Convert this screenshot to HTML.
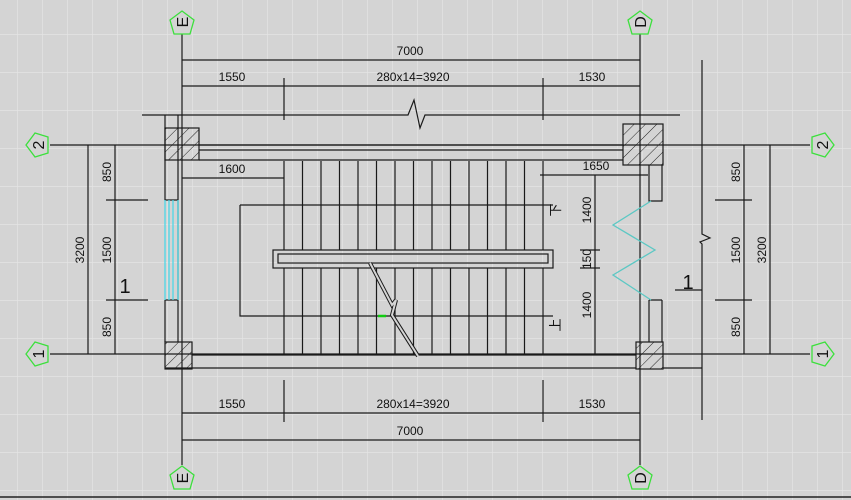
<!DOCTYPE html>
<html><head><style>html,body{margin:0;padding:0;background:#d4d4d4}svg{display:block}text{font-family:"Liberation Sans",sans-serif;fill:#111}</style></head>
<body>
<svg width="851" height="500" viewBox="0 0 851 500" xmlns="http://www.w3.org/2000/svg">
<defs>
<pattern id="g" width="25" height="38" patternUnits="userSpaceOnUse" x="-8" y="-4"><path d="M0 0V38M0 0H25" stroke="#e6e6e6" stroke-width="1.2" fill="none"/></pattern>
<pattern id="h" width="8" height="8" patternUnits="userSpaceOnUse" patternTransform="rotate(45)"><path d="M0 0V8" stroke="#222" stroke-width="1"/></pattern>
</defs>
<rect width="851" height="500" fill="#d4d4d4"/>
<rect width="851" height="500" fill="url(#g)"/>
<line x1="0" y1="497" x2="851" y2="497" stroke="#222" stroke-width="1.5"/>
<g stroke="#1a1a1a" stroke-width="1.2" fill="none">
<line x1="182" y1="34" x2="182" y2="465"/><line x1="640" y1="34" x2="640" y2="465"/>
<line x1="50" y1="145" x2="810" y2="145"/><line x1="50" y1="354" x2="810" y2="354"/>
<line x1="182" y1="60" x2="640" y2="60"/><line x1="182" y1="86" x2="640" y2="86"/>
<line x1="284" y1="78" x2="284" y2="120"/><line x1="543" y1="78" x2="543" y2="120"/>
<path d="M142 115H408L414 100L420 128L425 115H680"/>
<line x1="182" y1="413" x2="640" y2="413"/><line x1="182" y1="440" x2="640" y2="440"/>
<line x1="284" y1="380" x2="284" y2="422"/><line x1="543" y1="380" x2="543" y2="422"/>
<path d="M702 60V234L710 238L700 242L702 244V420"/>
<line x1="744" y1="145" x2="744" y2="354"/><line x1="770" y1="145" x2="770" y2="354"/>
<line x1="715" y1="200" x2="752" y2="200"/><line x1="715" y1="300" x2="752" y2="300"/>
<line x1="88" y1="145" x2="88" y2="354"/><line x1="115" y1="145" x2="115" y2="354"/>
<line x1="106" y1="200" x2="148" y2="200"/><line x1="106" y1="300" x2="148" y2="300"/>
<line x1="675" y1="290" x2="702" y2="290"/>
<path d="M165 115V200H178V115M178 200V300M165 300V342M178 300V342M165 300H178"/>
<path d="M199 145H623M199 150H623M199 160H623"/>
<path d="M192 355H636M165 368H636"/>
<path d="M649 165V201H662V165M649 300V342M662 300V342M649 300H662"/>
<line x1="663" y1="368" x2="702" y2="368"/>
<path d="M240 205H553M240 205V316H553"/>
<rect x="273" y="250" width="280" height="18"/><rect x="278" y="254" width="270" height="9"/>
<path d="M595 175V355M540 175H648M182 178H284"/>
<path d="M580 250H600M580 268H600"/>
</g>
<g stroke="#1a1a1a" stroke-width="1.2">
<path d="M284 161V250M302.5 161V250M321 161V250M339.5 161V250M358 161V250M376.5 161V250M395 161V250M413.5 161V250M432 161V250M450.5 161V250M469 161V250M487.5 161V250M506 161V250M524.5 161V250M543 161V250"/>
<path d="M284 268V355M302.5 268V355M321 268V355M339.5 268V355M358 268V355M376.5 268V355M395 268V355M413.5 268V355M432 268V355M450.5 268V355M469 268V355M487.5 268V355M506 268V355M524.5 268V355M543 268V355"/>
</g>
<path d="M370 263L392 305L396 300L392 315L418 356" stroke="#1a1a1a" stroke-width="4" fill="none"/>
<path d="M370 263L392 305L396 300L392 315L418 356" stroke="#d4d4d4" stroke-width="2" fill="none"/>
<line x1="378" y1="316" x2="386" y2="316" stroke="#1c1" stroke-width="2.5"/>
<g stroke="#1a1a1a" stroke-width="1.2">
<rect x="165" y="128" width="34" height="32" fill="url(#h)"/>
<rect x="623" y="124" width="40" height="41" fill="url(#h)"/>
<rect x="165" y="342" width="27" height="27" fill="url(#h)"/>
<rect x="636" y="342" width="27" height="27" fill="url(#h)"/>
</g>
<g stroke="#4cd8e6" stroke-width="1.3" fill="none">
<path d="M165 200V300M169 200V300M173 200V300M178 200V300"/>
<path d="M651 201L613 225L655 250L613 275L651 300" stroke="#5cc8c4"/>
</g>
<g stroke="#3ce03c" stroke-width="1.3" fill="#d4d4d4">
<polygon points="182,11 194,20 190,34 174,34 170,20"/>
<polygon points="640,11 652,20 648,34 632,34 628,20"/>
<polygon points="182,466 194,475 190,489 174,489 170,475"/>
<polygon points="640,466 652,475 648,489 632,489 628,475"/>
<polygon points="26,145 35,133 48,137 48,153 35,157"/>
<polygon points="26,354 35,342 48,346 48,362 35,366"/>
<polygon points="834,145 825,133 812,137 812,153 825,157"/>
<polygon points="834,354 825,342 812,346 812,362 825,366"/>
</g>
<g font-size="16">
<text x="182" y="28" text-anchor="middle" transform="rotate(-90 182 22)">E</text>
<text x="640" y="28" text-anchor="middle" transform="rotate(-90 640 22)">D</text>
<text x="182" y="484" text-anchor="middle" transform="rotate(-90 182 478)">E</text>
<text x="640" y="484" text-anchor="middle" transform="rotate(-90 640 478)">D</text>
<text x="38" y="151" text-anchor="middle" transform="rotate(-90 38 145)">2</text>
<text x="38" y="360" text-anchor="middle" transform="rotate(-90 38 354)">1</text>
<text x="822" y="151" text-anchor="middle" transform="rotate(-90 822 145)">2</text>
<text x="822" y="360" text-anchor="middle" transform="rotate(-90 822 354)">1</text>
</g>
<g font-size="12">
<text x="410" y="55" text-anchor="middle">7000</text>
<text x="232" y="81" text-anchor="middle">1550</text>
<text x="413" y="81" text-anchor="middle">280x14=3920</text>
<text x="592" y="81" text-anchor="middle">1530</text>
<text x="232" y="408" text-anchor="middle">1550</text>
<text x="413" y="408" text-anchor="middle">280x14=3920</text>
<text x="592" y="408" text-anchor="middle">1530</text>
<text x="410" y="435" text-anchor="middle">7000</text>
<text x="232" y="173" text-anchor="middle">1600</text>
<text x="596" y="170" text-anchor="middle">1650</text>
<text transform="translate(111,172) rotate(-90)" text-anchor="middle">850</text>
<text transform="translate(111,250) rotate(-90)" text-anchor="middle">1500</text>
<text transform="translate(111,327) rotate(-90)" text-anchor="middle">850</text>
<text transform="translate(84,250) rotate(-90)" text-anchor="middle">3200</text>
<text transform="translate(740,172) rotate(-90)" text-anchor="middle">850</text>
<text transform="translate(740,250) rotate(-90)" text-anchor="middle">1500</text>
<text transform="translate(740,327) rotate(-90)" text-anchor="middle">850</text>
<text transform="translate(766,250) rotate(-90)" text-anchor="middle">3200</text>
<text transform="translate(591,210) rotate(-90)" text-anchor="middle">1400</text>
<text transform="translate(591,259) rotate(-90)" text-anchor="middle">150</text>
<text transform="translate(591,305) rotate(-90)" text-anchor="middle">1400</text>
<text transform="translate(560,210) rotate(-90)" text-anchor="middle" font-size="13">下</text>
<text transform="translate(560,325) rotate(-90)" text-anchor="middle" font-size="13">上</text>
</g>
<text x="125" y="293" font-size="20" text-anchor="middle" font-family="Liberation Serif">1</text>
<text x="688" y="289" font-size="20" text-anchor="middle" font-family="Liberation Serif">1</text>
</svg>
</body></html>
